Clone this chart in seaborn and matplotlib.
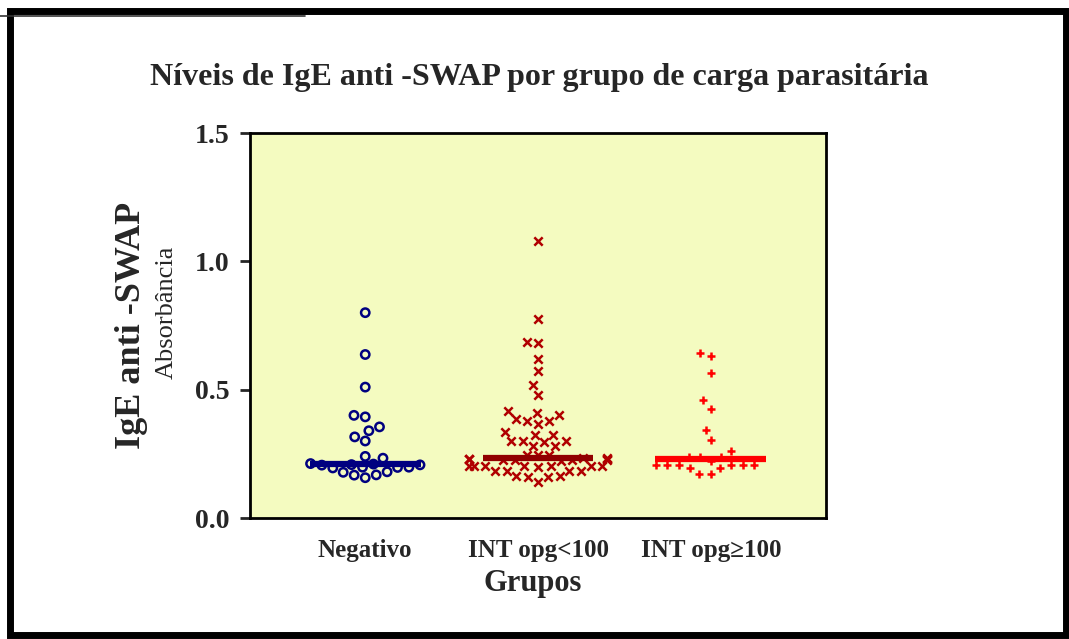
import numpy as np
import pandas as pd
import matplotlib
matplotlib.use('Agg')
import matplotlib.pyplot as plt
import seaborn as sns
from matplotlib.patches import Rectangle
from matplotlib.lines import Line2D
from matplotlib.ticker import FormatStrFormatter

grupos = ['Negativo', 'INT opg<100', 'INT opg\u2265100']

negativo = [0.80, 0.637, 0.51, 0.40, 0.394, 0.355, 0.34, 0.316, 0.30, 0.24, 0.233,
            0.212, 0.210, 0.208, 0.207, 0.206, 0.198, 0.198, 0.197, 0.195,
            0.18, 0.178, 0.168, 0.167, 0.157]
int_menor = [1.079, 0.777, 0.686, 0.682, 0.621, 0.574, 0.517, 0.48, 0.418, 0.409,
             0.40, 0.386, 0.379, 0.379, 0.367, 0.336, 0.324, 0.324, 0.30, 0.30,
             0.298, 0.30, 0.282, 0.282, 0.246, 0.246, 0.244, 0.232, 0.232,
             0.230, 0.230, 0.229, 0.229, 0.228, 0.227, 0.226, 0.225, 0.225, 0.224,
             0.203, 0.203, 0.203, 0.202, 0.202, 0.202, 0.201, 0.200,
             0.184, 0.184, 0.183, 0.183, 0.162, 0.162, 0.161, 0.161, 0.142]
int_maior = [0.643, 0.63, 0.565, 0.458, 0.426, 0.341, 0.302, 0.262, 0.238, 0.238,
             0.238, 0.224, 0.207, 0.207, 0.207, 0.206, 0.206, 0.205, 0.195, 0.195,
             0.172, 0.172]

cores = ['#000080', '#B00000', '#FF0000']
cores_mediana = ['#000080', '#900000', '#FF0000']
marcadores = ['o', 'x', '+']

df = pd.DataFrame({
    'grupo': [grupos[0]] * len(negativo) + [grupos[1]] * len(int_menor) + [grupos[2]] * len(int_maior),
    'valor': negativo + int_menor + int_maior,
})

sns.set_style('white')
plt.rcParams['font.family'] = ['Liberation Serif', 'DejaVu Serif']
plt.rcParams['font.weight'] = 'bold'

W, H = 1069, 639
fig = plt.figure(figsize=(W / 100, H / 100), dpi=100)
ax = fig.add_axes([250 / W, 1 - 518 / H, 576 / W, 385 / H])
ax.set_facecolor('#F4FBC0')

for i, g in enumerate(grupos):
    sub = df[df['grupo'] == g]
    n0 = len(ax.collections)
    sns.swarmplot(data=sub, x='grupo', y='valor', order=grupos, marker=marcadores[i],
                  color=cores[i], size=6, ax=ax, zorder=2)
    for coll in ax.collections[n0:]:
        if len(coll.get_offsets()) == 0:
            continue
        if marcadores[i] == 'o':
            coll.set_facecolor('none')
        else:
            coll.set_facecolor(cores[i])
        coll.set_edgecolor(cores[i])
        coll.set_linewidth(1.8)
    med = np.median(sub['valor'])
    ax.hlines(med, i - 0.32, i + 0.32, color=cores_mediana[i], lw=4.5, zorder=4)

ax.set_xlim(-0.667, 2.667)
ax.set_ylim(0, 1.5)
ax.set_yticks([0, 0.5, 1.0, 1.5])
ax.yaxis.set_major_formatter(FormatStrFormatter('%.1f'))
ax.set_xlabel('')
ax.set_ylabel('')
for s in ax.spines.values():
    s.set_visible(True)
    s.set_linewidth(2)
    s.set_color('black')
ax.tick_params(axis='y', direction='out', length=7, width=2, labelsize=20, pad=8, left=True)
ax.tick_params(axis='x', length=0, labelsize=18, pad=15)

fig.text(539 / W, 1 - 77 / H, 'Níveis de IgE anti -SWAP por grupo de carga parasitária',
         ha='center', va='center', fontsize=23, fontweight='bold')
fig.text(131 / W, 1 - 325 / H, 'IgE anti -SWAP', rotation=90, ha='center', va='center',
         fontsize=26, fontweight='bold')
fig.text(167 / W, 1 - 312 / H, 'Absorbância', rotation=90, ha='center', va='center',
         fontsize=19, fontweight='normal')
fig.text(533 / W, 1 - 584 / H, 'Grupos', ha='center', va='center', fontsize=22, fontweight='bold')

fig.patches.append(Rectangle((9.5 / W, 1 - 635 / H), (1066 - 9.5) / W, (635 - 10.5) / H,
                             transform=fig.transFigure, fill=False, edgecolor='black', lw=5))
fig.lines.append(Line2D([0, 305 / W], [1 - 16 / H, 1 - 16 / H], transform=fig.transFigure,
                        color='#333333', lw=1.2))

fig.savefig('out.png', dpi=100)
